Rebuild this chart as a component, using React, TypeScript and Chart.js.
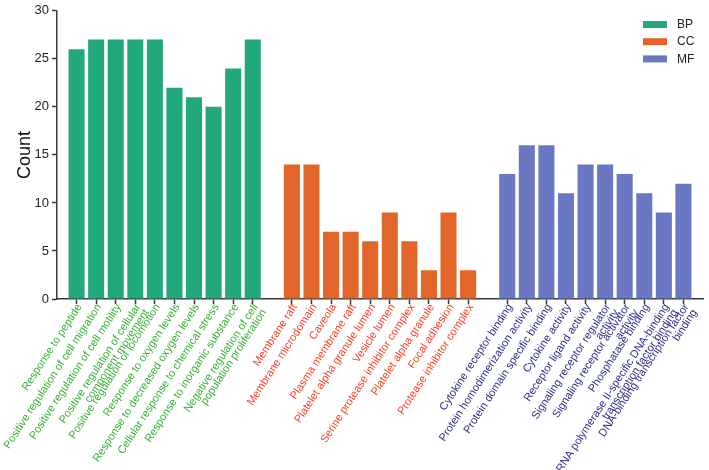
import React, { useEffect, useRef } from "react";
import { Chart, registerables } from "chart.js";

Chart.register(...registerables);

const bpLabels: (string | string[])[] = [
  "Response to peptide",
  "Positive regulation of cell migration",
  "Positive regulation of cell motility",
  ["Positive regulation of cellular", "component movement"],
  "Positive regulation of locomotion",
  "Response to oxygen levels",
  "Response to decreased oxygen levels",
  "Cellular response to chemical stress",
  "Response to inorganic substance",
  ["Negative regulation of cell", "population proliferation"],
];
const bpCounts = [26, 27, 27, 27, 27, 22, 21, 20, 24, 27];

const ccLabels: (string | string[])[] = [
  "Membrane raft",
  "Membrane microdomain",
  "Caveola",
  "Plasma membrane raft",
  "Platelet alpha granule lumen",
  "Vesicle lumen",
  "Serine protease inhibitor complex",
  "Platelet alpha granule",
  "Focal adhesion",
  "Protease inhibitor complex",
];
const ccCounts = [14, 14, 7, 7, 6, 9, 6, 3, 9, 3];

const mfLabels: (string | string[])[] = [
  "Cytokine receptor binding",
  "Protein homodimerization activity",
  "Protein domain specific binding",
  "Cytokine activity",
  "Receptor ligand activity",
  ["Signaling receptor regulator", "activity"],
  ["Signaling receptor activator", "activity"],
  "Phosphatase binding",
  ["RNA polymerase II-specific DNA-binding", "transcription factor binding"],
  ["DNA-binding transcription factor", "binding"],
];
const mfCounts = [13, 16, 16, 11, 14, 14, 13, 11, 9, 12];

const groupNames = ["BP", "CC", "MF"];
const yMin = 0;
const yMax = 30;
const yStep = 5;

const barColors = ["#22a979", "#e2662a", "#6a77c3"];
const labelColors = ["#36b036", "#ff3d1f", "#2b2b91"];
const FONT = "'Liberation Sans', Arial, sans-serif";
const AXIS = "#3a3a3a";
const ROT = (57 * Math.PI) / 180;

export default function App() {
  const ref = useRef<HTMLCanvasElement>(null);

  useEffect(() => {
    if (!ref.current) return;
    const groups = [bpLabels, ccLabels, mfLabels];
    const counts = [bpCounts, ccCounts, mfCounts];
    const labels: (string | string[])[] = [""];
    const groupOf: number[] = [-1];
    const starts: number[] = [];
    groups.forEach((g, gi) => {
      if (gi > 0) {
        labels.push("");
        groupOf.push(-1);
      }
      starts.push(labels.length);
      g.forEach((l) => {
        labels.push(l);
        groupOf.push(gi);
      });
    });
    labels.push("");
    groupOf.push(-1);

    const datasets = counts.map((vals, gi) => ({
      label: groupNames[gi],
      data: labels.map((_, i) =>
        i >= starts[gi] && i < starts[gi] + vals.length ? vals[i - starts[gi]] : null
      ),
      backgroundColor: barColors[gi],
      borderWidth: 0,
      grouped: false,
      categoryPercentage: 1,
      barPercentage: 0.82,
    }));

    const legendPlugin = {
      id: "customLegend",
      afterDraw(chart: any) {
        const ctx = chart.ctx;
        ctx.save();
        chart.data.datasets.forEach((ds: any, i: number) => {
          const y = 21 + i * 17.2;
          ctx.fillStyle = ds.backgroundColor;
          ctx.fillRect(643, y, 24, 7);
          ctx.fillStyle = "#222";
          ctx.font = `12px ${FONT}`;
          ctx.textBaseline = "middle";
          ctx.textAlign = "left";
          ctx.fillText(ds.label, 677, y + 3.8);
        });
        ctx.restore();
      },
    };

    const xLabelPlugin = {
      id: "rotatedXLabels",
      afterDraw(chart: any) {
        const ctx = chart.ctx;
        const sx = chart.scales.x;
        const base = chart.chartArea.bottom;
        ctx.save();
        ctx.font = `11px ${FONT}`;
        ctx.textAlign = "right";
        ctx.textBaseline = "middle";
        (chart.data.labels as any[]).forEach((lab: any, i: number) => {
          const g = groupOf[i];
          if (g < 0) return;
          const lines: string[] = Array.isArray(lab) ? lab : [lab];
          const x = sx.getPixelForTick(i);
          ctx.save();
          ctx.translate(x + 3, base + 6);
          ctx.rotate(-ROT);
          ctx.fillStyle = labelColors[g];
          lines.forEach((ln, li) => ctx.fillText(ln, 0, li * 10));
          ctx.restore();
        });
        ctx.restore();
      },
    };

    const chart = new Chart(ref.current, {
      type: "bar",
      data: { labels, datasets: datasets as any },
      options: {
        responsive: false,
        devicePixelRatio: 1,
        animation: false,
        layout: { padding: { top: 9, right: 6, left: 0, bottom: 0 } },
        plugins: {
          legend: { display: false },
          tooltip: { enabled: false },
        },
        scales: {
          x: {
            type: "category",
            offset: false,
            grid: {
              offset: false,
              display: true,
              drawOnChartArea: false,
              drawTicks: true,
              tickLength: 5,
              tickWidth: 1.5,
              tickColor: (c: any) => (groupOf[c.index] >= 0 ? AXIS : "rgba(0,0,0,0)"),
            },
            border: { color: AXIS, width: 1.5 },
            ticks: {
              display: false,
              autoSkip: false,
            },
            afterFit: (s: any) => {
              s.height = 171;
            },
          },
          y: {
            min: yMin,
            max: yMax,
            ticks: {
              stepSize: yStep,
              color: "#222",
              padding: 3,
              font: { size: 13, family: FONT },
            },
            grid: {
              display: true,
              drawOnChartArea: false,
              tickLength: 5,
              tickWidth: 1.5,
              tickColor: AXIS,
            },
            border: { color: AXIS, width: 1.5 },
            title: {
              display: true,
              text: "Count",
              color: "#111",
              font: { size: 18, family: FONT },
              padding: { top: 14, bottom: 0 },
            },
            afterFit: (s: any) => {
              s.width = 57;
            },
          },
        },
      },
      plugins: [legendPlugin, xLabelPlugin],
    });
    return () => chart.destroy();
  }, []);

  return (
    <div style={{ position: "fixed", left: 0, top: 0, width: 709, height: 470, background: "#fff" }}>
      <canvas ref={ref} width={709} height={470} style={{ display: "block" }} />
    </div>
  );
}
